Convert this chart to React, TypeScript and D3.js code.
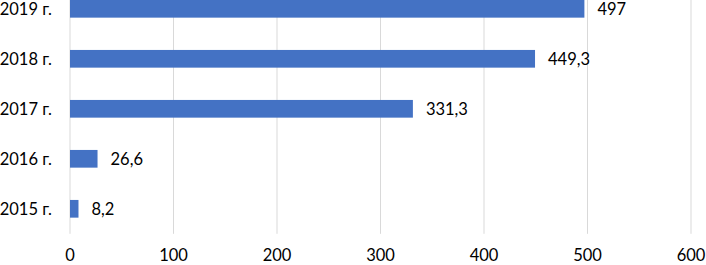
import React from 'react';
import * as d3 from 'd3';

// Horizontal bars, one per year, newest on top; values carry a comma decimal.
const years = ['2015 г.', '2016 г.', '2017 г.', '2018 г.', '2019 г.'];
const values = [8.2, 26.6, 331.3, 449.3, 497];
const xTicks = [0, 100, 200, 300, 400, 500, 600];

const W = 706;
const H = 265;
const PLOT_LEFT = 70;
const PLOT_RIGHT = 691;
const PLOT_TOP = -16.2;
const PLOT_BOTTOM = 233.8;
const FONT = 'Lato, "Open Sans", sans-serif';
const FONT_SIZE = 16.5;

const fmt = (v: number) => String(v).replace('.', ',');

export default function App() {
  const x = d3.scaleLinear().domain([0, 600]).range([PLOT_LEFT, PLOT_RIGHT]);
  const y = d3
    .scaleBand<string>()
    .domain([...years].reverse())
    .range([PLOT_TOP, PLOT_BOTTOM])
    .paddingInner(0.646)
    .paddingOuter(0.323);

  const rows = years.map((name, i) => ({ name, value: values[i] }));

  return (
    <div style={{ position: 'absolute', left: 0, top: 0 }}>
      <svg width={W} height={H} style={{ display: 'block', background: 'white' }}>
        {/* vertical gridlines */}
        <g>
          {xTicks.map((t) => (
            <line
              key={t}
              x1={x(t)}
              x2={x(t)}
              y1={PLOT_TOP}
              y2={PLOT_BOTTOM}
              stroke="#d9d9d9"
              strokeWidth={1}
            />
          ))}
        </g>

        {/* bars */}
        <g>
          {rows.map((d) => (
            <rect
              key={d.name}
              x={x(0)}
              y={y(d.name)}
              width={x(d.value) - x(0)}
              height={y.bandwidth()}
              fill="#4472C4"
            />
          ))}
        </g>

        {/* value labels */}
        <g fontFamily={FONT} fontSize={FONT_SIZE} fill="#000">
          {rows.map((d) => (
            <text
              key={d.name}
              x={x(d.value) + 13}
              y={(y(d.name) ?? 0) + y.bandwidth() / 2 + 6}
            >
              {fmt(d.value)}
            </text>
          ))}
        </g>

        {/* category labels */}
        <g fontFamily={FONT} fontSize={FONT_SIZE} fill="#000" textAnchor="end">
          {rows.map((d) => (
            <text key={d.name} x={52} y={(y(d.name) ?? 0) + y.bandwidth() / 2 + 6}>
              {d.name}
            </text>
          ))}
        </g>

        {/* x tick labels */}
        <g fontFamily={FONT} fontSize={FONT_SIZE} fill="#000" textAnchor="middle">
          {xTicks.map((t) => (
            <text key={t} x={x(t)} y={261}>
              {t}
            </text>
          ))}
        </g>
      </svg>
    </div>
  );
}
